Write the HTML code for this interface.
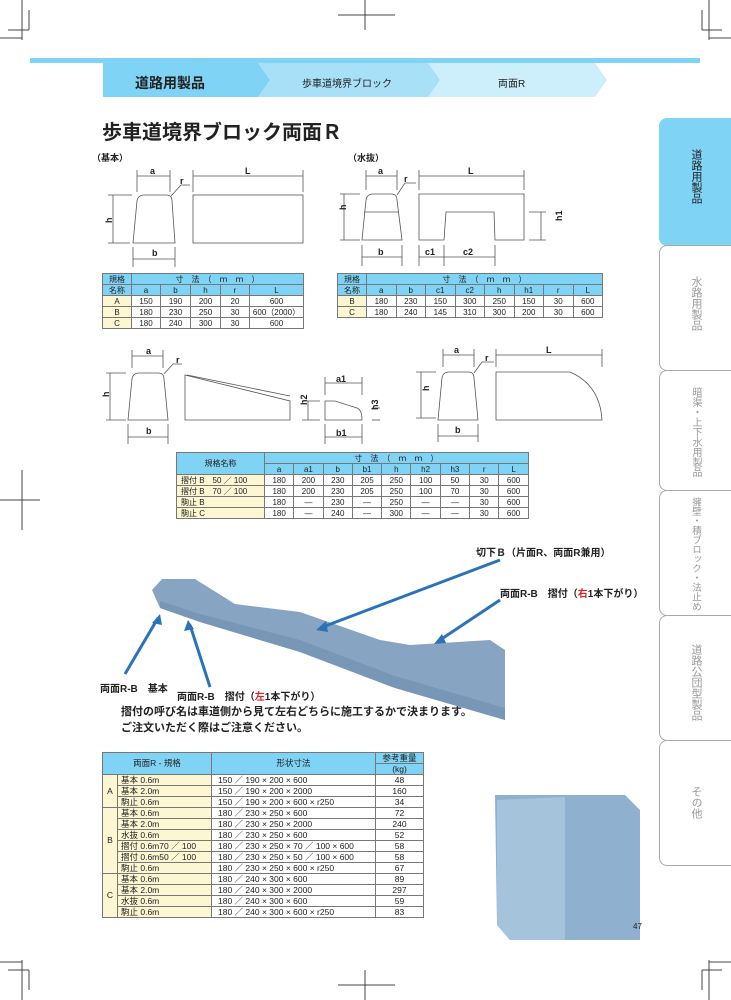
<!DOCTYPE html>
<html><head><meta charset="utf-8">
<style>
*{margin:0;padding:0;box-sizing:border-box}
body{width:731px;height:1000px;position:relative;background:#fff;font-family:"Liberation Sans","Noto Sans CJK JP",sans-serif;color:#222;overflow:hidden}
.a{position:absolute}
table{border-collapse:collapse;position:absolute;font-size:8px;table-layout:fixed}
td{border:1px solid #777;text-align:center;height:11px;line-height:9px;padding:0;white-space:nowrap;overflow:hidden}
.h{background:#7fd3f5}
.y{background:#fdf6d3}
.tab{position:absolute;left:659px;width:72px;border:1px solid #aaa;border-right:none;border-radius:8px 0 0 8px;background:#fff;overflow:hidden}
.tab span{position:absolute;left:30px;writing-mode:vertical-rl;font-size:11px;color:#999;line-height:12px;white-space:nowrap}
</style></head><body>
<svg class="a" style="left:0;top:0" width="731" height="1000">
<g stroke="#444" stroke-width="1" fill="none">
<line x1="365" y1="0" x2="365" y2="30"/><line x1="338" y1="15" x2="395" y2="15"/>
<line x1="29" y1="10" x2="29" y2="30"/><line x1="8" y1="30" x2="29" y2="30"/>
<line x1="22" y1="0" x2="22" y2="40"/><line x1="0" y1="38" x2="22" y2="38"/>
<line x1="702" y1="10" x2="702" y2="30"/><line x1="702" y1="30" x2="722" y2="30"/>
<line x1="709" y1="0" x2="709" y2="40"/><line x1="709" y1="38" x2="731" y2="38"/>
<line x1="0" y1="500" x2="40" y2="500"/><line x1="22" y1="470" x2="22" y2="530"/>
<line x1="690" y1="500" x2="731" y2="500"/><line x1="709" y1="470" x2="709" y2="530"/>
<line x1="365" y1="970" x2="365" y2="1000"/><line x1="338" y1="985" x2="395" y2="985"/>
<line x1="29" y1="970" x2="29" y2="990"/><line x1="8" y1="970" x2="29" y2="970"/>
<line x1="22" y1="960" x2="22" y2="1000"/><line x1="0" y1="962" x2="22" y2="962"/>
<line x1="702" y1="970" x2="702" y2="990"/><line x1="702" y1="970" x2="722" y2="970"/>
<line x1="709" y1="960" x2="709" y2="1000"/><line x1="709" y1="962" x2="731" y2="962"/>
</g>
<rect x="30" y="58" width="670" height="5" fill="#7fd3f5"/>
<polygon points="425,63 595,63 607,80 595,97 425,97 437,80" fill="#cdeefb"/>
<polygon points="258,63 428,63 440,80 428,97 258,97 270,80" fill="#a8e0f7"/>
<polygon points="103,63 258,63 270,80 258,97 103,97" fill="#7fd3f5"/>
<g stroke="#555" stroke-width="0.8" fill="none">
<path d="M133,243 L137,201 Q138,195 144,195 L166,195 Q172,195 172,201 L175,243 Z"/>
<rect x="193" y="195" width="110" height="48"/>
<line x1="137" y1="176" x2="170" y2="176"/><line x1="137" y1="170" x2="137" y2="192"/><line x1="170" y1="170" x2="170" y2="192"/>
<line x1="193" y1="176" x2="303" y2="176"/><line x1="193" y1="170" x2="193" y2="192"/><line x1="303" y1="170" x2="303" y2="192"/>
<line x1="113" y1="195" x2="113" y2="243"/><line x1="108" y1="195" x2="132" y2="195"/><line x1="108" y1="243" x2="130" y2="243"/>
<line x1="133" y1="259" x2="175" y2="259"/><line x1="133" y1="247" x2="133" y2="267"/><line x1="175" y1="247" x2="175" y2="267"/>
<path d="M171,196 L181,185 L190,185"/>
<path d="M362,240 L366,200 Q367,194 373,194 L391,194 Q397,194 397,200 L402,240 Z"/>
<line x1="364" y1="212" x2="399" y2="212"/>
<path d="M419,194 L524,194 L524,240 L495,240 L494,212 L446,212 L444,240 L419,240 Z"/>
<line x1="366" y1="176" x2="397" y2="176"/><line x1="366" y1="170" x2="366" y2="190"/><line x1="397" y1="170" x2="397" y2="190"/>
<line x1="419" y1="176" x2="524" y2="176"/><line x1="419" y1="170" x2="419" y2="190"/><line x1="524" y1="170" x2="524" y2="190"/>
<line x1="344" y1="194" x2="344" y2="240"/><line x1="340" y1="194" x2="360" y2="194"/><line x1="340" y1="240" x2="360" y2="240"/>
<line x1="362" y1="257" x2="402" y2="257"/><line x1="362" y1="245" x2="362" y2="266"/><line x1="402" y1="245" x2="402" y2="266"/>
<line x1="419" y1="257" x2="444" y2="257"/><line x1="444" y1="257" x2="495" y2="257"/><line x1="419" y1="245" x2="419" y2="266"/><line x1="444" y1="245" x2="444" y2="266"/><line x1="495" y1="245" x2="495" y2="266"/>
<line x1="541" y1="212" x2="541" y2="240"/><line x1="529" y1="212" x2="546" y2="212"/><line x1="529" y1="240" x2="546" y2="240"/>
<path d="M397,195 L405,183 L416,183"/>
<path d="M128,420 L132,379 Q133,373 139,373 L158,373 Q164,373 164,379 L168,420 Z"/>
<line x1="132" y1="356" x2="163" y2="356"/><line x1="132" y1="350" x2="132" y2="368"/><line x1="163" y1="350" x2="163" y2="368"/>
<line x1="110" y1="373" x2="110" y2="420"/><line x1="106" y1="373" x2="126" y2="373"/><line x1="106" y1="420" x2="126" y2="420"/>
<line x1="128" y1="437" x2="168" y2="437"/><line x1="128" y1="424" x2="128" y2="444"/><line x1="168" y1="424" x2="168" y2="444"/>
<path d="M164,374 L173,364 L182,364"/>
<path d="M185,375 L290,401 L290,420 L185,420 Z"/><path d="M187,375 L290,396"/>
<path d="M325,420 L325,401 L335,401 L357,408 Q362,410 362,420 Z"/>
<line x1="325" y1="383" x2="362" y2="383"/><line x1="325" y1="377" x2="325" y2="395"/><line x1="362" y1="377" x2="362" y2="395"/>
<line x1="325" y1="437" x2="362" y2="437"/><line x1="325" y1="424" x2="325" y2="444"/><line x1="362" y1="424" x2="362" y2="444"/>
<line x1="308" y1="401" x2="308" y2="420"/><line x1="302" y1="401" x2="320" y2="401"/><line x1="302" y1="420" x2="320" y2="420"/>
<line x1="372" y1="408" x2="380" y2="408"/><line x1="372" y1="420" x2="380" y2="420"/>
<path d="M438,420 L442,378 Q443,372 449,372 L468,372 Q474,372 474,378 L478,420 Z"/>
<line x1="443" y1="355" x2="474" y2="355"/><line x1="443" y1="349" x2="443" y2="367"/><line x1="474" y1="349" x2="474" y2="367"/>
<line x1="496" y1="355" x2="602" y2="355"/><line x1="496" y1="349" x2="496" y2="367"/><line x1="602" y1="349" x2="602" y2="367"/>
<line x1="421" y1="372" x2="421" y2="418"/><line x1="416" y1="372" x2="436" y2="372"/><line x1="416" y1="418" x2="436" y2="418"/>
<line x1="438" y1="436" x2="478" y2="436"/><line x1="438" y1="424" x2="438" y2="442"/><line x1="478" y1="424" x2="478" y2="442"/>
<path d="M474,373 L482,362 L494,362"/>
<path d="M496,420 L496,372 L570,372 Q600,385 602,420 Z"/>
</g>
<g font-size="9" fill="#222" font-weight="bold">
<text x="150" y="174">a</text><text x="245" y="174">L</text><text x="180" y="184">r</text><text x="107" y="222" transform="rotate(-90 110 220)">h</text><text x="152" y="256">b</text>
<text x="378" y="174">a</text><text x="468" y="174">L</text><text x="404" y="182">r</text><text x="350" y="218" transform="rotate(-90 344 216)">h</text><text x="378" y="255">b</text><text x="425" y="255">c1</text><text x="463" y="255">c2</text><text x="565" y="228" transform="rotate(-90 560 226)">h1</text>
<text x="146" y="354">a</text><text x="176" y="363">r</text><text x="106" y="400" transform="rotate(-90 106 397)">h</text><text x="146" y="434">b</text>
<text x="336" y="382">a1</text><text x="336" y="436">b1</text><text x="310" y="412" transform="rotate(-90 305 410)">h2</text><text x="378" y="414" transform="rotate(-90 376 412)">h3</text>
<text x="454" y="353">a</text><text x="546" y="353">L</text><text x="485" y="361">r</text><text x="430" y="396" transform="rotate(-90 427 394)">h</text><text x="455" y="433">b</text>
</g>
<polygon points="152,590 162,579 195,579 235,604 300,612 380,640 410,645 490,640 505,650 505,720 395,688 300,652 200,622 160,608" fill="#87a5c3"/>
<polygon points="160,608 200,622 300,652 395,688 505,720 505,708 395,676 300,640 200,614 160,601" fill="#7896b6"/>
<polygon points="495,795 625,795 640,810 640,940 510,940 497,925" fill="#8fb0cf"/>
<polygon points="497,800 565,797 565,940 510,940 497,925" fill="#a6c3dc"/>
<g stroke="#2a73b8" stroke-width="3" fill="none">
<line x1="500" y1="560" x2="320" y2="628"/><line x1="500" y1="600" x2="440" y2="640"/>
<line x1="125" y1="674" x2="158" y2="618"/><line x1="210" y1="687" x2="190" y2="625"/>
</g>
<g fill="#2a73b8"><polygon points="316,630 326,621 328,632"/><polygon points="434,644 442,634 446,643"/><polygon points="160,614 152,623 162,625"/><polygon points="188,620 184,631 194,629"/></g>
</svg>
<div class="a" style="left:135px;top:73px;font-size:14px;font-weight:bold">道路用製品</div>
<div class="a" style="left:302px;top:75px;font-size:10px">歩車道境界ブロック</div>
<div class="a" style="left:498px;top:75px;font-size:10px">両面R</div>
<div class="a" style="left:102px;top:116px;font-size:20px;font-weight:bold">歩車道境界ブロック両面Ｒ</div>
<div class="a" style="left:92px;top:151px;font-size:9px;font-weight:bold">（基本）</div>
<div class="a" style="left:348px;top:151px;font-size:9px;font-weight:bold">（水抜）</div>

<table style="left:102px;top:273px;width:201px">
<colgroup><col style="width:29px"><col style="width:29px"><col style="width:30px"><col style="width:30px"><col style="width:29px"><col style="width:54px"></colgroup>
<tr><td class="h">規格</td><td class="h" colspan="5">寸　法　（　ｍ　ｍ　）</td></tr>
<tr><td class="h">名称</td><td class="h">a</td><td class="h">b</td><td class="h">h</td><td class="h">r</td><td class="h">L</td></tr>
<tr><td class="y">A</td><td>150</td><td>190</td><td>200</td><td>20</td><td>600</td></tr>
<tr><td class="y">B</td><td>180</td><td>230</td><td>250</td><td>30</td><td>600（2000）</td></tr>
<tr><td class="y">C</td><td>180</td><td>240</td><td>300</td><td>30</td><td>600</td></tr>
</table>
<table style="left:337px;top:273px;width:265px">
<colgroup><col style="width:29px"><col span="8" style="width:29.5px"></colgroup>
<tr><td class="h">規格</td><td class="h" colspan="8">寸　法　（　ｍ　ｍ　）</td></tr>
<tr><td class="h">名称</td><td class="h">a</td><td class="h">b</td><td class="h">c1</td><td class="h">c2</td><td class="h">h</td><td class="h">h1</td><td class="h">r</td><td class="h">L</td></tr>
<tr><td class="y">B</td><td>180</td><td>230</td><td>150</td><td>300</td><td>250</td><td>150</td><td>30</td><td>600</td></tr>
<tr><td class="y">C</td><td>180</td><td>240</td><td>145</td><td>310</td><td>300</td><td>200</td><td>30</td><td>600</td></tr>
</table>
<table style="left:176px;top:452px;width:352px">
<colgroup><col style="width:88px"><col span="9" style="width:29.3px"></colgroup>
<tr><td class="h" rowspan="2" style="height:22px">規格名称</td><td class="h" colspan="9">寸　法　（　ｍ　ｍ　）</td></tr>
<tr><td class="h">a</td><td class="h">a1</td><td class="h">b</td><td class="h">b1</td><td class="h">h</td><td class="h">h2</td><td class="h">h3</td><td class="h">r</td><td class="h">L</td></tr>
<tr><td class="y" style="text-align:left;padding-left:4px">摺付 B　50 ／ 100</td><td>180</td><td>200</td><td>230</td><td>205</td><td>250</td><td>100</td><td>50</td><td>30</td><td>600</td></tr>
<tr><td class="y" style="text-align:left;padding-left:4px">摺付 B　70 ／ 100</td><td>180</td><td>200</td><td>230</td><td>205</td><td>250</td><td>100</td><td>70</td><td>30</td><td>600</td></tr>
<tr><td class="y" style="text-align:left;padding-left:4px">駒止 B</td><td>180</td><td>—</td><td>230</td><td>—</td><td>250</td><td>—</td><td>—</td><td>30</td><td>600</td></tr>
<tr><td class="y" style="text-align:left;padding-left:4px">駒止 C</td><td>180</td><td>—</td><td>240</td><td>—</td><td>300</td><td>—</td><td>—</td><td>30</td><td>600</td></tr>
</table>

<div class="a" style="left:476px;top:544px;font-size:10px;font-weight:bold">切下Ｂ（片面R、両面R兼用）</div>
<div class="a" style="left:500px;top:585px;font-size:10px;font-weight:bold">両面R-B　摺付（<span style="color:#e02020">右</span>1本下がり）</div>
<div class="a" style="left:100px;top:680px;font-size:10px;font-weight:bold">両面R-B　基本</div>
<div class="a" style="left:177px;top:688px;font-size:10px;font-weight:bold">両面R-B　摺付（<span style="color:#e02020">左</span>1本下がり）</div>
<div class="a" style="left:121px;top:703px;font-size:11px;font-weight:bold">摺付の呼び名は車道側から見て左右どちらに施工するかで決まります。</div>
<div class="a" style="left:121px;top:719px;font-size:11px;font-weight:bold">ご注文いただく際はご注意ください。</div>

<table style="left:102px;top:752px;width:321px;font-size:8.5px">
<colgroup><col style="width:15px"><col style="width:94px"><col style="width:164px"><col style="width:48px"></colgroup>
<tr><td class="h" colspan="2" rowspan="2" style="height:21px">両面R - 規格</td><td class="h" rowspan="2">形状寸法</td><td class="h">参考重量</td></tr>
<tr><td class="h">(kg)</td></tr>
<tr><td class="y" rowspan="3">A</td><td class="y" style="text-align:left;padding-left:3px">基本 0.6m</td><td style="text-align:left;padding-left:6px">150 ／ 190 × 200 × 600</td><td>48</td></tr>
<tr><td class="y" style="text-align:left;padding-left:3px">基本 2.0m</td><td style="text-align:left;padding-left:6px">150 ／ 190 × 200 × 2000</td><td>160</td></tr>
<tr><td class="y" style="text-align:left;padding-left:3px">駒止 0.6m</td><td style="text-align:left;padding-left:6px">150 ／ 190 × 200 × 600 × r250</td><td>34</td></tr>
<tr><td class="y" rowspan="6">B</td><td class="y" style="text-align:left;padding-left:3px">基本 0.6m</td><td style="text-align:left;padding-left:6px">180 ／ 230 × 250 × 600</td><td>72</td></tr>
<tr><td class="y" style="text-align:left;padding-left:3px">基本 2.0m</td><td style="text-align:left;padding-left:6px">180 ／ 230 × 250 × 2000</td><td>240</td></tr>
<tr><td class="y" style="text-align:left;padding-left:3px">水抜 0.6m</td><td style="text-align:left;padding-left:6px">180 ／ 230 × 250 × 600</td><td>52</td></tr>
<tr><td class="y" style="text-align:left;padding-left:3px">摺付 0.6m70 ／ 100</td><td style="text-align:left;padding-left:6px">180 ／ 230 × 250 × 70 ／ 100 × 600</td><td>58</td></tr>
<tr><td class="y" style="text-align:left;padding-left:3px">摺付 0.6m50 ／ 100</td><td style="text-align:left;padding-left:6px">180 ／ 230 × 250 × 50 ／ 100 × 600</td><td>58</td></tr>
<tr><td class="y" style="text-align:left;padding-left:3px">駒止 0.6m</td><td style="text-align:left;padding-left:6px">180 ／ 230 × 250 × 600 × r250</td><td>67</td></tr>
<tr><td class="y" rowspan="4">C</td><td class="y" style="text-align:left;padding-left:3px">基本 0.6m</td><td style="text-align:left;padding-left:6px">180 ／ 240 × 300 × 600</td><td>89</td></tr>
<tr><td class="y" style="text-align:left;padding-left:3px">基本 2.0m</td><td style="text-align:left;padding-left:6px">180 ／ 240 × 300 × 2000</td><td>297</td></tr>
<tr><td class="y" style="text-align:left;padding-left:3px">水抜 0.6m</td><td style="text-align:left;padding-left:6px">180 ／ 240 × 300 × 600</td><td>59</td></tr>
<tr><td class="y" style="text-align:left;padding-left:3px">駒止 0.6m</td><td style="text-align:left;padding-left:6px">180 ／ 240 × 300 × 600 × r250</td><td>83</td></tr>
</table>

<div class="tab" style="top:118px;height:128px;background:#7fd3f5;border-color:#7fd3f5"><span style="top:30px;color:#222">道路用製品</span></div>
<div class="tab" style="top:245px;height:126px"><span style="top:30px">水路用製品</span></div>
<div class="tab" style="top:370px;height:121px"><span style="top:16px;font-size:10px;line-height:11px">暗渠・上下水用製品</span></div>
<div class="tab" style="top:490px;height:126px"><span style="top:6px;font-size:9.5px;line-height:11px">擁壁・積ブロック・法止め</span></div>
<div class="tab" style="top:615px;height:126px"><span style="top:28px">道路公団型製品</span></div>
<div class="tab" style="top:740px;height:126px"><span style="top:45px">その他</span></div>
<div class="a" style="left:633px;top:922px;font-size:8px">47</div>
</body></html>
